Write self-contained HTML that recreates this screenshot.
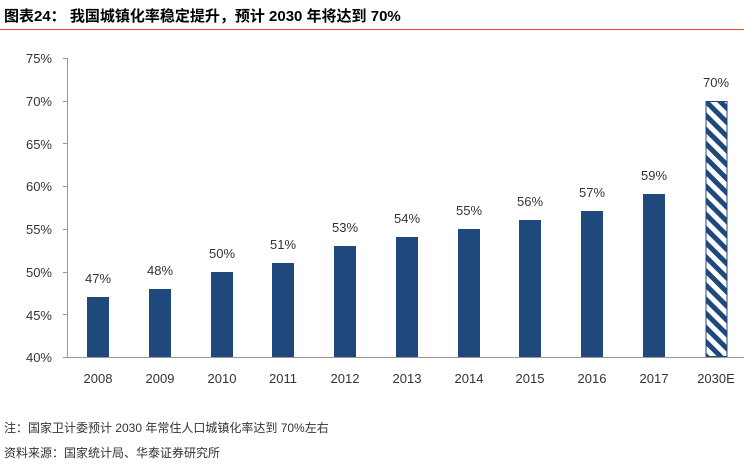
<!DOCTYPE html>
<html><head><meta charset="utf-8"><style>
body{margin:0;background:#fff;width:744px;height:466px;overflow:hidden;font-family:"Liberation Sans","Noto Sans CJK SC",sans-serif}
</style></head><body>
<svg width="744" height="466" xmlns="http://www.w3.org/2000/svg" font-family="Liberation Sans, Noto Sans CJK SC, sans-serif">
<defs>
<pattern id="h" patternUnits="userSpaceOnUse" width="10" height="10" patternTransform="rotate(45)">
<rect width="10" height="10" fill="#fff"/><rect width="10" height="5" fill="#1f497d"/>
</pattern>
</defs>
<text x="4" y="21" font-size="15" font-weight="bold" fill="#000">图表24：  我国城镇化率稳定提升，预计 2030 年将达到 70%</text>
<line x1="0" y1="29.5" x2="744" y2="29.5" stroke="#e8483c" stroke-width="1"/>
<g font-size="13" fill="#333" text-anchor="end">
<text x="52" y="362">40%</text><text x="52" y="320">45%</text><text x="52" y="277">50%</text><text x="52" y="234">55%</text><text x="52" y="191">60%</text><text x="52" y="149">65%</text><text x="52" y="106">70%</text><text x="52" y="63">75%</text>
</g>
<g stroke="#999" stroke-width="1">
<line x1="67.5" y1="58" x2="67.5" y2="357"/>
<line x1="67" y1="357.5" x2="746" y2="357.5"/>
<line x1="63" y1="58.5" x2="67" y2="58.5"/><line x1="63" y1="101.5" x2="67" y2="101.5"/><line x1="63" y1="143.5" x2="67" y2="143.5"/><line x1="63" y1="186.5" x2="67" y2="186.5"/><line x1="63" y1="229.5" x2="67" y2="229.5"/><line x1="63" y1="272.5" x2="67" y2="272.5"/><line x1="63" y1="314.5" x2="67" y2="314.5"/><line x1="63" y1="357.5" x2="67" y2="357.5"/>
</g>
<g fill="#1f497d">
<rect x="87" y="297" width="22" height="60"/>
<rect x="149" y="289" width="22" height="68"/>
<rect x="211" y="272" width="22" height="85"/>
<rect x="272" y="263" width="22" height="94"/>
<rect x="334" y="246" width="22" height="111"/>
<rect x="396" y="237" width="22" height="120"/>
<rect x="458" y="229" width="22" height="128"/>
<rect x="519" y="220" width="22" height="137"/>
<rect x="581" y="211" width="22" height="146"/>
<rect x="643" y="194" width="22" height="163"/>
</g>
<rect x="706" y="101.5" width="21" height="255" fill="url(#h)" stroke="#1f497d" stroke-width="1"/>
<g font-size="13" fill="#333" text-anchor="middle">
<text x="98" y="283">47%</text><text x="160" y="275">48%</text><text x="222" y="258">50%</text><text x="283" y="249">51%</text><text x="345" y="232">53%</text><text x="407" y="223">54%</text><text x="469" y="215">55%</text><text x="530" y="206">56%</text><text x="592" y="197">57%</text><text x="654" y="180">59%</text><text x="716" y="87">70%</text>
</g>
<g font-size="13" fill="#333" text-anchor="middle">
<text x="98" y="383">2008</text><text x="160" y="383">2009</text><text x="222" y="383">2010</text><text x="283" y="383">2011</text><text x="345" y="383">2012</text><text x="407" y="383">2013</text><text x="469" y="383">2014</text><text x="530" y="383">2015</text><text x="592" y="383">2016</text><text x="654" y="383">2017</text><text x="716" y="383">2030E</text>
</g>
<text x="4" y="432" font-size="12" fill="#333">注：国家卫计委预计 2030 年常住人口城镇化率达到 70%左右</text>
<text x="4" y="457" font-size="12" fill="#333">资料来源：国家统计局、华泰证券研究所</text>
</svg>
</body></html>
